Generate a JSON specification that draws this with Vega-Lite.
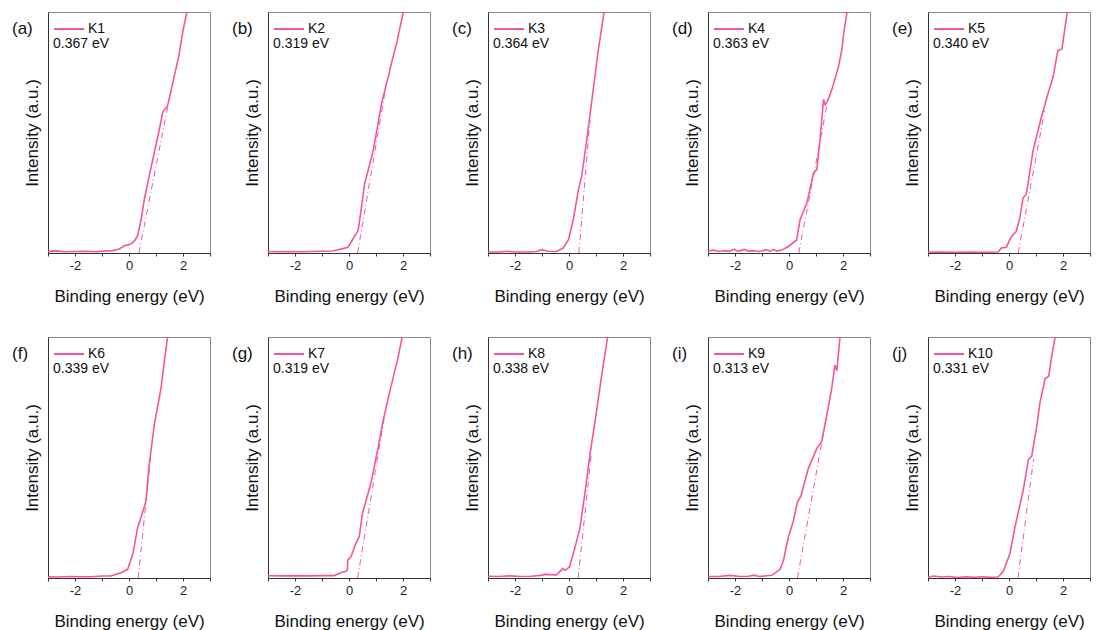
{
  "$schema": "https://vega.github.io/schema/vega-lite/v6.json",
  "padding": {"left": 11, "top": 11, "right": 5, "bottom": 2},
  "config": {
    "font": "Liberation Sans",
    "view": {"stroke": "#8a8a8a", "strokeWidth": 1},
    "axis": {"grid": false, "domainColor": "#333", "tickColor": "#333", "labelColor": "#222", "titleColor": "#111", "titleFontWeight": "normal", "titleFontSize": 17, "labelFontSize": 13},
    "axisX": {"tickSize": 3, "labelPadding": 3, "titlePadding": 16, "labelFlush": false},
    "axisY": {"titlePadding": 7},
    "title": {"anchor": "start", "frame": "group", "fontSize": 17, "fontWeight": "normal", "color": "#111", "dx": -36, "dy": 30, "offset": 0},
    "legend": {"padding": 0, "symbolType": "stroke", "symbolSize": 900, "symbolStrokeWidth": 2, "labelFontSize": 14, "labelColor": "#111", "titleFontSize": 14, "titleColor": "#111", "titleFontWeight": "normal", "titleOrient": "bottom", "titleAnchor": "start", "titlePadding": 1, "labelOffset": 3}
  },
  "datasets": {
    "spectra": [
      {"panel": "a", "series": "spectrum", "energy": -3, "intensity": 0.7},
      {"panel": "a", "series": "spectrum", "energy": -2.7, "intensity": 0.9},
      {"panel": "a", "series": "spectrum", "energy": -2.4, "intensity": 0.5},
      {"panel": "a", "series": "spectrum", "energy": -2.0, "intensity": 0.6},
      {"panel": "a", "series": "spectrum", "energy": -1.6, "intensity": 0.7},
      {"panel": "a", "series": "spectrum", "energy": -1.2, "intensity": 0.5},
      {"panel": "a", "series": "spectrum", "energy": -0.9, "intensity": 0.9},
      {"panel": "a", "series": "spectrum", "energy": -0.6, "intensity": 1.0},
      {"panel": "a", "series": "spectrum", "energy": -0.36, "intensity": 1.7},
      {"panel": "a", "series": "spectrum", "energy": -0.17, "intensity": 3.0},
      {"panel": "a", "series": "spectrum", "energy": 0.07, "intensity": 3.7},
      {"panel": "a", "series": "spectrum", "energy": 0.2, "intensity": 5.0},
      {"panel": "a", "series": "spectrum", "energy": 0.32, "intensity": 7.2},
      {"panel": "a", "series": "spectrum", "energy": 0.45, "intensity": 14},
      {"panel": "a", "series": "spectrum", "energy": 0.57, "intensity": 22.4},
      {"panel": "a", "series": "spectrum", "energy": 0.75, "intensity": 32},
      {"panel": "a", "series": "spectrum", "energy": 0.94, "intensity": 41.8},
      {"panel": "a", "series": "spectrum", "energy": 1.1, "intensity": 50},
      {"panel": "a", "series": "spectrum", "energy": 1.25, "intensity": 58.4},
      {"panel": "a", "series": "spectrum", "energy": 1.43, "intensity": 61.1},
      {"panel": "a", "series": "spectrum", "energy": 1.55, "intensity": 67},
      {"panel": "a", "series": "spectrum", "energy": 1.68, "intensity": 73.6},
      {"panel": "a", "series": "spectrum", "energy": 1.85, "intensity": 82},
      {"panel": "a", "series": "spectrum", "energy": 1.99, "intensity": 91.6},
      {"panel": "a", "series": "spectrum", "energy": 2.14, "intensity": 100},
      {"panel": "a", "series": "fit", "energy": 0.367, "intensity": 0},
      {"panel": "a", "series": "fit", "energy": 1.43, "intensity": 60.4},

      {"panel": "b", "series": "spectrum", "energy": -3, "intensity": 0.6},
      {"panel": "b", "series": "spectrum", "energy": -2.6, "intensity": 0.5},
      {"panel": "b", "series": "spectrum", "energy": -2.2, "intensity": 0.6},
      {"panel": "b", "series": "spectrum", "energy": -1.8, "intensity": 0.5},
      {"panel": "b", "series": "spectrum", "energy": -1.4, "intensity": 0.6},
      {"panel": "b", "series": "spectrum", "energy": -1.0, "intensity": 0.7},
      {"panel": "b", "series": "spectrum", "energy": -0.6, "intensity": 0.8},
      {"panel": "b", "series": "spectrum", "energy": -0.29, "intensity": 1.7},
      {"panel": "b", "series": "spectrum", "energy": -0.04, "intensity": 2.4},
      {"panel": "b", "series": "spectrum", "energy": 0.15, "intensity": 5.9},
      {"panel": "b", "series": "spectrum", "energy": 0.34, "intensity": 9.4},
      {"panel": "b", "series": "spectrum", "energy": 0.45, "intensity": 18},
      {"panel": "b", "series": "spectrum", "energy": 0.58, "intensity": 28.9},
      {"panel": "b", "series": "spectrum", "energy": 0.75, "intensity": 36},
      {"panel": "b", "series": "spectrum", "energy": 0.9, "intensity": 42.8},
      {"panel": "b", "series": "spectrum", "energy": 1.05, "intensity": 52},
      {"panel": "b", "series": "spectrum", "energy": 1.21, "intensity": 62.3},
      {"panel": "b", "series": "spectrum", "energy": 1.46, "intensity": 73.4},
      {"panel": "b", "series": "spectrum", "energy": 1.6, "intensity": 80},
      {"panel": "b", "series": "spectrum", "energy": 1.77, "intensity": 87.3},
      {"panel": "b", "series": "spectrum", "energy": 2.01, "intensity": 100},
      {"panel": "b", "series": "fit", "energy": 0.319, "intensity": 0},
      {"panel": "b", "series": "fit", "energy": 1.39, "intensity": 70.6},

      {"panel": "c", "series": "spectrum", "energy": -3, "intensity": 0.4},
      {"panel": "c", "series": "spectrum", "energy": -2.6, "intensity": 0.4},
      {"panel": "c", "series": "spectrum", "energy": -2.3, "intensity": 0.7},
      {"panel": "c", "series": "spectrum", "energy": -2.0, "intensity": 0.4},
      {"panel": "c", "series": "spectrum", "energy": -1.5, "intensity": 0.4},
      {"panel": "c", "series": "spectrum", "energy": -1.2, "intensity": 0.6},
      {"panel": "c", "series": "spectrum", "energy": -1.0, "intensity": 1.4},
      {"panel": "c", "series": "spectrum", "energy": -0.8, "intensity": 0.7},
      {"panel": "c", "series": "spectrum", "energy": -0.46, "intensity": 0.6},
      {"panel": "c", "series": "spectrum", "energy": -0.21, "intensity": 2.1},
      {"panel": "c", "series": "spectrum", "energy": -0.02, "intensity": 5.5},
      {"panel": "c", "series": "spectrum", "energy": 0.16, "intensity": 13.9},
      {"panel": "c", "series": "spectrum", "energy": 0.35, "intensity": 26.3},
      {"panel": "c", "series": "spectrum", "energy": 0.47, "intensity": 31.9},
      {"panel": "c", "series": "spectrum", "energy": 0.66, "intensity": 47.1},
      {"panel": "c", "series": "spectrum", "energy": 0.9, "intensity": 68},
      {"panel": "c", "series": "spectrum", "energy": 1.09, "intensity": 84.6},
      {"panel": "c", "series": "spectrum", "energy": 1.3, "intensity": 100},
      {"panel": "c", "series": "fit", "energy": 0.364, "intensity": 0},
      {"panel": "c", "series": "fit", "energy": 0.78, "intensity": 55.5},

      {"panel": "d", "series": "spectrum", "energy": -3, "intensity": 0.8},
      {"panel": "d", "series": "spectrum", "energy": -2.8, "intensity": 1.2},
      {"panel": "d", "series": "spectrum", "energy": -2.6, "intensity": 0.6},
      {"panel": "d", "series": "spectrum", "energy": -2.4, "intensity": 0.9},
      {"panel": "d", "series": "spectrum", "energy": -2.2, "intensity": 0.7},
      {"panel": "d", "series": "spectrum", "energy": -2.03, "intensity": 1.6},
      {"panel": "d", "series": "spectrum", "energy": -1.9, "intensity": 0.7},
      {"panel": "d", "series": "spectrum", "energy": -1.65, "intensity": 1.5},
      {"panel": "d", "series": "spectrum", "energy": -1.5, "intensity": 0.8},
      {"panel": "d", "series": "spectrum", "energy": -1.3, "intensity": 0.9},
      {"panel": "d", "series": "spectrum", "energy": -1.1, "intensity": 0.6},
      {"panel": "d", "series": "spectrum", "energy": -0.84, "intensity": 1.4},
      {"panel": "d", "series": "spectrum", "energy": -0.7, "intensity": 0.7},
      {"panel": "d", "series": "spectrum", "energy": -0.59, "intensity": 1.5},
      {"panel": "d", "series": "spectrum", "energy": -0.45, "intensity": 0.8},
      {"panel": "d", "series": "spectrum", "energy": -0.28, "intensity": 1.2},
      {"panel": "d", "series": "spectrum", "energy": -0.03, "intensity": 2.6},
      {"panel": "d", "series": "spectrum", "energy": 0.28, "intensity": 5.4},
      {"panel": "d", "series": "spectrum", "energy": 0.41, "intensity": 13.8},
      {"panel": "d", "series": "spectrum", "energy": 0.66, "intensity": 20.7},
      {"panel": "d", "series": "spectrum", "energy": 0.91, "intensity": 33.2},
      {"panel": "d", "series": "spectrum", "energy": 1.03, "intensity": 34.6},
      {"panel": "d", "series": "spectrum", "energy": 1.15, "intensity": 47.1},
      {"panel": "d", "series": "spectrum", "energy": 1.28, "intensity": 63.8},
      {"panel": "d", "series": "spectrum", "energy": 1.34, "intensity": 61.5},
      {"panel": "d", "series": "spectrum", "energy": 1.4, "intensity": 62.4},
      {"panel": "d", "series": "spectrum", "energy": 1.59, "intensity": 67.9},
      {"panel": "d", "series": "spectrum", "energy": 1.84, "intensity": 77.6},
      {"panel": "d", "series": "spectrum", "energy": 1.96, "intensity": 84.6},
      {"panel": "d", "series": "spectrum", "energy": 2.03, "intensity": 91.5},
      {"panel": "d", "series": "spectrum", "energy": 2.15, "intensity": 100},
      {"panel": "d", "series": "fit", "energy": 0.363, "intensity": 0},
      {"panel": "d", "series": "fit", "energy": 1.4, "intensity": 61},

      {"panel": "e", "series": "spectrum", "energy": -3, "intensity": 0.3},
      {"panel": "e", "series": "spectrum", "energy": -2.5, "intensity": 0.4},
      {"panel": "e", "series": "spectrum", "energy": -2.0, "intensity": 0.3},
      {"panel": "e", "series": "spectrum", "energy": -1.5, "intensity": 0.4},
      {"panel": "e", "series": "spectrum", "energy": -1.0, "intensity": 0.3},
      {"panel": "e", "series": "spectrum", "energy": -0.41, "intensity": 0.4},
      {"panel": "e", "series": "spectrum", "energy": -0.28, "intensity": 2.1},
      {"panel": "e", "series": "spectrum", "energy": -0.1, "intensity": 2.4},
      {"panel": "e", "series": "spectrum", "energy": 0.09, "intensity": 6.9},
      {"panel": "e", "series": "spectrum", "energy": 0.27, "intensity": 9.0},
      {"panel": "e", "series": "spectrum", "energy": 0.4, "intensity": 14.6},
      {"panel": "e", "series": "spectrum", "energy": 0.52, "intensity": 22.9},
      {"panel": "e", "series": "spectrum", "energy": 0.64, "intensity": 24.3},
      {"panel": "e", "series": "spectrum", "energy": 0.89, "intensity": 42.4},
      {"panel": "e", "series": "spectrum", "energy": 1.01, "intensity": 47.9},
      {"panel": "e", "series": "spectrum", "energy": 1.2, "intensity": 56.3},
      {"panel": "e", "series": "spectrum", "energy": 1.44, "intensity": 66.0},
      {"panel": "e", "series": "spectrum", "energy": 1.63, "intensity": 72.9},
      {"panel": "e", "series": "spectrum", "energy": 1.81, "intensity": 84.0},
      {"panel": "e", "series": "spectrum", "energy": 1.96, "intensity": 84.7},
      {"panel": "e", "series": "spectrum", "energy": 2.06, "intensity": 92.4},
      {"panel": "e", "series": "spectrum", "energy": 2.16, "intensity": 100},
      {"panel": "e", "series": "fit", "energy": 0.34, "intensity": 0},
      {"panel": "e", "series": "fit", "energy": 1.32, "intensity": 59},

      {"panel": "f", "series": "spectrum", "energy": -3, "intensity": 0.5},
      {"panel": "f", "series": "spectrum", "energy": -2.6, "intensity": 0.4},
      {"panel": "f", "series": "spectrum", "energy": -2.2, "intensity": 0.6},
      {"panel": "f", "series": "spectrum", "energy": -1.8, "intensity": 0.5},
      {"panel": "f", "series": "spectrum", "energy": -1.4, "intensity": 0.5},
      {"panel": "f", "series": "spectrum", "energy": -1.0, "intensity": 0.8},
      {"panel": "f", "series": "spectrum", "energy": -0.67, "intensity": 0.8},
      {"panel": "f", "series": "spectrum", "energy": -0.3, "intensity": 2.2},
      {"panel": "f", "series": "spectrum", "energy": -0.05, "intensity": 3.6},
      {"panel": "f", "series": "spectrum", "energy": 0.14, "intensity": 9.8},
      {"panel": "f", "series": "spectrum", "energy": 0.32, "intensity": 20.9},
      {"panel": "f", "series": "spectrum", "energy": 0.44, "intensity": 25},
      {"panel": "f", "series": "spectrum", "energy": 0.63, "intensity": 32},
      {"panel": "f", "series": "spectrum", "energy": 0.75, "intensity": 47.2},
      {"panel": "f", "series": "spectrum", "energy": 0.94, "intensity": 63.8},
      {"panel": "f", "series": "spectrum", "energy": 1.19, "intensity": 79},
      {"panel": "f", "series": "spectrum", "energy": 1.31, "intensity": 90},
      {"panel": "f", "series": "spectrum", "energy": 1.43, "intensity": 100},
      {"panel": "f", "series": "fit", "energy": 0.339, "intensity": 0},
      {"panel": "f", "series": "fit", "energy": 0.81, "intensity": 51.3},

      {"panel": "g", "series": "spectrum", "energy": -3, "intensity": 0.95},
      {"panel": "g", "series": "spectrum", "energy": -2.5, "intensity": 0.9},
      {"panel": "g", "series": "spectrum", "energy": -2.0, "intensity": 1.0},
      {"panel": "g", "series": "spectrum", "energy": -1.5, "intensity": 0.9},
      {"panel": "g", "series": "spectrum", "energy": -1.0, "intensity": 1.0},
      {"panel": "g", "series": "spectrum", "energy": -0.54, "intensity": 1.0},
      {"panel": "g", "series": "spectrum", "energy": -0.29, "intensity": 2.3},
      {"panel": "g", "series": "spectrum", "energy": -0.11, "intensity": 2.8},
      {"panel": "g", "series": "spectrum", "energy": -0.06, "intensity": 3.4},
      {"panel": "g", "series": "spectrum", "energy": -0.05, "intensity": 7.3},
      {"panel": "g", "series": "spectrum", "energy": 0.08, "intensity": 9.0},
      {"panel": "g", "series": "spectrum", "energy": 0.26, "intensity": 14.5},
      {"panel": "g", "series": "spectrum", "energy": 0.38, "intensity": 17.2},
      {"panel": "g", "series": "spectrum", "energy": 0.5, "intensity": 26.9},
      {"panel": "g", "series": "spectrum", "energy": 0.81, "intensity": 39.3},
      {"panel": "g", "series": "spectrum", "energy": 1.06, "intensity": 53.0},
      {"panel": "g", "series": "spectrum", "energy": 1.24, "intensity": 64.0},
      {"panel": "g", "series": "spectrum", "energy": 1.49, "intensity": 76.4},
      {"panel": "g", "series": "spectrum", "energy": 1.79, "intensity": 90.2},
      {"panel": "g", "series": "spectrum", "energy": 1.97, "intensity": 100},
      {"panel": "g", "series": "fit", "energy": 0.319, "intensity": 0},
      {"panel": "g", "series": "fit", "energy": 1.3, "intensity": 66.2},

      {"panel": "h", "series": "spectrum", "energy": -3, "intensity": 0.7},
      {"panel": "h", "series": "spectrum", "energy": -2.6, "intensity": 0.6},
      {"panel": "h", "series": "spectrum", "energy": -2.2, "intensity": 0.9},
      {"panel": "h", "series": "spectrum", "energy": -1.8, "intensity": 0.6},
      {"panel": "h", "series": "spectrum", "energy": -1.4, "intensity": 0.7},
      {"panel": "h", "series": "spectrum", "energy": -1.03, "intensity": 1.1},
      {"panel": "h", "series": "spectrum", "energy": -0.91, "intensity": 1.5},
      {"panel": "h", "series": "spectrum", "energy": -0.7, "intensity": 1.4},
      {"panel": "h", "series": "spectrum", "energy": -0.47, "intensity": 1.3},
      {"panel": "h", "series": "spectrum", "energy": -0.23, "intensity": 3.9},
      {"panel": "h", "series": "spectrum", "energy": -0.14, "intensity": 3.2},
      {"panel": "h", "series": "spectrum", "energy": 0.02, "intensity": 4.6},
      {"panel": "h", "series": "spectrum", "energy": 0.21, "intensity": 12.2},
      {"panel": "h", "series": "spectrum", "energy": 0.4, "intensity": 20.5},
      {"panel": "h", "series": "spectrum", "energy": 0.58, "intensity": 34.3},
      {"panel": "h", "series": "spectrum", "energy": 0.77, "intensity": 50.9},
      {"panel": "h", "series": "spectrum", "energy": 0.96, "intensity": 64.7},
      {"panel": "h", "series": "spectrum", "energy": 1.21, "intensity": 84.1},
      {"panel": "h", "series": "spectrum", "energy": 1.43, "intensity": 100},
      {"panel": "h", "series": "fit", "energy": 0.338, "intensity": 0},
      {"panel": "h", "series": "fit", "energy": 0.83, "intensity": 52},

      {"panel": "i", "series": "spectrum", "energy": -3, "intensity": 0.6},
      {"panel": "i", "series": "spectrum", "energy": -2.6, "intensity": 0.6},
      {"panel": "i", "series": "spectrum", "energy": -2.2, "intensity": 1.1},
      {"panel": "i", "series": "spectrum", "energy": -1.8, "intensity": 0.6},
      {"panel": "i", "series": "spectrum", "energy": -1.5, "intensity": 0.7},
      {"panel": "i", "series": "spectrum", "energy": -1.3, "intensity": 1.2},
      {"panel": "i", "series": "spectrum", "energy": -1.1, "intensity": 0.6},
      {"panel": "i", "series": "spectrum", "energy": -0.9, "intensity": 0.8},
      {"panel": "i", "series": "spectrum", "energy": -0.64, "intensity": 1.1},
      {"panel": "i", "series": "spectrum", "energy": -0.33, "intensity": 3.6},
      {"panel": "i", "series": "spectrum", "energy": -0.21, "intensity": 7.0},
      {"panel": "i", "series": "spectrum", "energy": -0.03, "intensity": 16.7},
      {"panel": "i", "series": "spectrum", "energy": 0.16, "intensity": 23.6},
      {"panel": "i", "series": "spectrum", "energy": 0.32, "intensity": 31.8},
      {"panel": "i", "series": "spectrum", "energy": 0.44, "intensity": 33.9},
      {"panel": "i", "series": "spectrum", "energy": 0.72, "intensity": 45.6},
      {"panel": "i", "series": "spectrum", "energy": 1.03, "intensity": 53.8},
      {"panel": "i", "series": "spectrum", "energy": 1.21, "intensity": 56.6},
      {"panel": "i", "series": "spectrum", "energy": 1.4, "intensity": 67.6},
      {"panel": "i", "series": "spectrum", "energy": 1.58, "intensity": 78.6},
      {"panel": "i", "series": "spectrum", "energy": 1.7, "intensity": 88.3},
      {"panel": "i", "series": "spectrum", "energy": 1.77, "intensity": 86},
      {"panel": "i", "series": "spectrum", "energy": 1.89, "intensity": 100},
      {"panel": "i", "series": "fit", "energy": 0.313, "intensity": 0},
      {"panel": "i", "series": "fit", "energy": 1.4, "intensity": 68},

      {"panel": "j", "series": "spectrum", "energy": -3, "intensity": 0.3},
      {"panel": "j", "series": "spectrum", "energy": -2.8, "intensity": 0.8},
      {"panel": "j", "series": "spectrum", "energy": -2.5, "intensity": 0.4},
      {"panel": "j", "series": "spectrum", "energy": -2.2, "intensity": 0.6},
      {"panel": "j", "series": "spectrum", "energy": -1.9, "intensity": 0.2},
      {"panel": "j", "series": "spectrum", "energy": -1.6, "intensity": 0.5},
      {"panel": "j", "series": "spectrum", "energy": -1.3, "intensity": 0.3},
      {"panel": "j", "series": "spectrum", "energy": -1.0, "intensity": 0.5},
      {"panel": "j", "series": "spectrum", "energy": -0.7, "intensity": 0.3},
      {"panel": "j", "series": "spectrum", "energy": -0.4, "intensity": 0.4},
      {"panel": "j", "series": "spectrum", "energy": -0.21, "intensity": 2.9},
      {"panel": "j", "series": "spectrum", "energy": 0.03, "intensity": 9.9},
      {"panel": "j", "series": "spectrum", "energy": 0.22, "intensity": 21.1},
      {"panel": "j", "series": "spectrum", "energy": 0.53, "intensity": 36.6},
      {"panel": "j", "series": "spectrum", "energy": 0.72, "intensity": 49.2},
      {"panel": "j", "series": "spectrum", "energy": 0.84, "intensity": 50.5},
      {"panel": "j", "series": "spectrum", "energy": 1.03, "intensity": 63.2},
      {"panel": "j", "series": "spectrum", "energy": 1.15, "intensity": 73.0},
      {"panel": "j", "series": "spectrum", "energy": 1.34, "intensity": 82.8},
      {"panel": "j", "series": "spectrum", "energy": 1.47, "intensity": 83.7},
      {"panel": "j", "series": "spectrum", "energy": 1.59, "intensity": 92.6},
      {"panel": "j", "series": "spectrum", "energy": 1.71, "intensity": 100},
      {"panel": "j", "series": "fit", "energy": 0.331, "intensity": 0},
      {"panel": "j", "series": "fit", "energy": 0.91, "intensity": 49.2}
    ]
  },
  "spacing": 31,
  "resolve": {"scale": {"color": "independent"}, "legend": {"color": "independent"}},
  "vconcat": [
    {
      "spacing": 58,
      "bounds": "flush",
      "resolve": {"scale": {"color": "independent"}, "legend": {"color": "independent"}},
      "hconcat": [
        {
          "title": "(a)", "width": 162, "height": 241,
          "data": {"name": "spectra"},
          "transform": [{"filter": "datum.panel == 'a'"}],
          "encoding": {
            "x": {"field": "energy", "type": "quantitative", "title": "Binding energy (eV)", "scale": {"domain": [-3, 3]}, "axis": {"values": [-3, -2, -1, 0, 1, 2, 3], "labelExpr": "datum.value % 2 == 0 ? '' + datum.value : ''"}},
            "y": {"field": "intensity", "type": "quantitative", "title": "Intensity (a.u.)", "scale": {"domain": [0, 100]}, "axis": {"labels": false, "ticks": false}}
          },
          "layer": [
            {"transform": [{"filter": "datum.series == 'spectrum'"}], "mark": {"type": "line", "clip": true, "strokeWidth": 1.6}, "encoding": {"color": {"datum": "K1", "scale": {"range": ["#F5559F"]}, "legend": {"title": "0.367 eV", "orient": "none", "legendX": 5, "legendY": 1}}}},
            {"transform": [{"filter": "datum.series == 'fit'"}], "mark": {"type": "line", "color": "#F5559F", "strokeWidth": 1, "strokeDash": [6, 3, 1, 3]}}
          ]
        },
        {
          "title": "(b)", "width": 162, "height": 241,
          "data": {"name": "spectra"},
          "transform": [{"filter": "datum.panel == 'b'"}],
          "encoding": {
            "x": {"field": "energy", "type": "quantitative", "title": "Binding energy (eV)", "scale": {"domain": [-3, 3]}, "axis": {"values": [-3, -2, -1, 0, 1, 2, 3], "labelExpr": "datum.value % 2 == 0 ? '' + datum.value : ''"}},
            "y": {"field": "intensity", "type": "quantitative", "title": "Intensity (a.u.)", "scale": {"domain": [0, 100]}, "axis": {"labels": false, "ticks": false}}
          },
          "layer": [
            {"transform": [{"filter": "datum.series == 'spectrum'"}], "mark": {"type": "line", "clip": true, "strokeWidth": 1.6}, "encoding": {"color": {"datum": "K2", "scale": {"range": ["#F5559F"]}, "legend": {"title": "0.319 eV", "orient": "none", "legendX": 5, "legendY": 1}}}},
            {"transform": [{"filter": "datum.series == 'fit'"}], "mark": {"type": "line", "color": "#F5559F", "strokeWidth": 1, "strokeDash": [6, 3, 1, 3]}}
          ]
        },
        {
          "title": "(c)", "width": 162, "height": 241,
          "data": {"name": "spectra"},
          "transform": [{"filter": "datum.panel == 'c'"}],
          "encoding": {
            "x": {"field": "energy", "type": "quantitative", "title": "Binding energy (eV)", "scale": {"domain": [-3, 3]}, "axis": {"values": [-3, -2, -1, 0, 1, 2, 3], "labelExpr": "datum.value % 2 == 0 ? '' + datum.value : ''"}},
            "y": {"field": "intensity", "type": "quantitative", "title": "Intensity (a.u.)", "scale": {"domain": [0, 100]}, "axis": {"labels": false, "ticks": false}}
          },
          "layer": [
            {"transform": [{"filter": "datum.series == 'spectrum'"}], "mark": {"type": "line", "clip": true, "strokeWidth": 1.6}, "encoding": {"color": {"datum": "K3", "scale": {"range": ["#F5559F"]}, "legend": {"title": "0.364 eV", "orient": "none", "legendX": 5, "legendY": 1}}}},
            {"transform": [{"filter": "datum.series == 'fit'"}], "mark": {"type": "line", "color": "#F5559F", "strokeWidth": 1, "strokeDash": [6, 3, 1, 3]}}
          ]
        },
        {
          "title": "(d)", "width": 162, "height": 241,
          "data": {"name": "spectra"},
          "transform": [{"filter": "datum.panel == 'd'"}],
          "encoding": {
            "x": {"field": "energy", "type": "quantitative", "title": "Binding energy (eV)", "scale": {"domain": [-3, 3]}, "axis": {"values": [-3, -2, -1, 0, 1, 2, 3], "labelExpr": "datum.value % 2 == 0 ? '' + datum.value : ''"}},
            "y": {"field": "intensity", "type": "quantitative", "title": "Intensity (a.u.)", "scale": {"domain": [0, 100]}, "axis": {"labels": false, "ticks": false}}
          },
          "layer": [
            {"transform": [{"filter": "datum.series == 'spectrum'"}], "mark": {"type": "line", "clip": true, "strokeWidth": 1.6}, "encoding": {"color": {"datum": "K4", "scale": {"range": ["#F5559F"]}, "legend": {"title": "0.363 eV", "orient": "none", "legendX": 5, "legendY": 1}}}},
            {"transform": [{"filter": "datum.series == 'fit'"}], "mark": {"type": "line", "color": "#F5559F", "strokeWidth": 1, "strokeDash": [6, 3, 1, 3]}}
          ]
        },
        {
          "title": "(e)", "width": 162, "height": 241,
          "data": {"name": "spectra"},
          "transform": [{"filter": "datum.panel == 'e'"}],
          "encoding": {
            "x": {"field": "energy", "type": "quantitative", "title": "Binding energy (eV)", "scale": {"domain": [-3, 3]}, "axis": {"values": [-3, -2, -1, 0, 1, 2, 3], "labelExpr": "datum.value % 2 == 0 ? '' + datum.value : ''"}},
            "y": {"field": "intensity", "type": "quantitative", "title": "Intensity (a.u.)", "scale": {"domain": [0, 100]}, "axis": {"labels": false, "ticks": false}}
          },
          "layer": [
            {"transform": [{"filter": "datum.series == 'spectrum'"}], "mark": {"type": "line", "clip": true, "strokeWidth": 1.6}, "encoding": {"color": {"datum": "K5", "scale": {"range": ["#F5559F"]}, "legend": {"title": "0.340 eV", "orient": "none", "legendX": 5, "legendY": 1}}}},
            {"transform": [{"filter": "datum.series == 'fit'"}], "mark": {"type": "line", "color": "#F5559F", "strokeWidth": 1, "strokeDash": [6, 3, 1, 3]}}
          ]
        }
      ]
    },
    {
      "spacing": 58,
      "bounds": "flush",
      "resolve": {"scale": {"color": "independent"}, "legend": {"color": "independent"}},
      "hconcat": [
        {
          "title": "(f)", "width": 162, "height": 241,
          "data": {"name": "spectra"},
          "transform": [{"filter": "datum.panel == 'f'"}],
          "encoding": {
            "x": {"field": "energy", "type": "quantitative", "title": "Binding energy (eV)", "scale": {"domain": [-3, 3]}, "axis": {"values": [-3, -2, -1, 0, 1, 2, 3], "labelExpr": "datum.value % 2 == 0 ? '' + datum.value : ''"}},
            "y": {"field": "intensity", "type": "quantitative", "title": "Intensity (a.u.)", "scale": {"domain": [0, 100]}, "axis": {"labels": false, "ticks": false}}
          },
          "layer": [
            {"transform": [{"filter": "datum.series == 'spectrum'"}], "mark": {"type": "line", "clip": true, "strokeWidth": 1.6}, "encoding": {"color": {"datum": "K6", "scale": {"range": ["#F5559F"]}, "legend": {"title": "0.339 eV", "orient": "none", "legendX": 5, "legendY": 1}}}},
            {"transform": [{"filter": "datum.series == 'fit'"}], "mark": {"type": "line", "color": "#F5559F", "strokeWidth": 1, "strokeDash": [6, 3, 1, 3]}}
          ]
        },
        {
          "title": "(g)", "width": 162, "height": 241,
          "data": {"name": "spectra"},
          "transform": [{"filter": "datum.panel == 'g'"}],
          "encoding": {
            "x": {"field": "energy", "type": "quantitative", "title": "Binding energy (eV)", "scale": {"domain": [-3, 3]}, "axis": {"values": [-3, -2, -1, 0, 1, 2, 3], "labelExpr": "datum.value % 2 == 0 ? '' + datum.value : ''"}},
            "y": {"field": "intensity", "type": "quantitative", "title": "Intensity (a.u.)", "scale": {"domain": [0, 100]}, "axis": {"labels": false, "ticks": false}}
          },
          "layer": [
            {"transform": [{"filter": "datum.series == 'spectrum'"}], "mark": {"type": "line", "clip": true, "strokeWidth": 1.6}, "encoding": {"color": {"datum": "K7", "scale": {"range": ["#F5559F"]}, "legend": {"title": "0.319 eV", "orient": "none", "legendX": 5, "legendY": 1}}}},
            {"transform": [{"filter": "datum.series == 'fit'"}], "mark": {"type": "line", "color": "#F5559F", "strokeWidth": 1, "strokeDash": [6, 3, 1, 3]}}
          ]
        },
        {
          "title": "(h)", "width": 162, "height": 241,
          "data": {"name": "spectra"},
          "transform": [{"filter": "datum.panel == 'h'"}],
          "encoding": {
            "x": {"field": "energy", "type": "quantitative", "title": "Binding energy (eV)", "scale": {"domain": [-3, 3]}, "axis": {"values": [-3, -2, -1, 0, 1, 2, 3], "labelExpr": "datum.value % 2 == 0 ? '' + datum.value : ''"}},
            "y": {"field": "intensity", "type": "quantitative", "title": "Intensity (a.u.)", "scale": {"domain": [0, 100]}, "axis": {"labels": false, "ticks": false}}
          },
          "layer": [
            {"transform": [{"filter": "datum.series == 'spectrum'"}], "mark": {"type": "line", "clip": true, "strokeWidth": 1.6}, "encoding": {"color": {"datum": "K8", "scale": {"range": ["#F5559F"]}, "legend": {"title": "0.338 eV", "orient": "none", "legendX": 5, "legendY": 1}}}},
            {"transform": [{"filter": "datum.series == 'fit'"}], "mark": {"type": "line", "color": "#F5559F", "strokeWidth": 1, "strokeDash": [6, 3, 1, 3]}}
          ]
        },
        {
          "title": "(i)", "width": 162, "height": 241,
          "data": {"name": "spectra"},
          "transform": [{"filter": "datum.panel == 'i'"}],
          "encoding": {
            "x": {"field": "energy", "type": "quantitative", "title": "Binding energy (eV)", "scale": {"domain": [-3, 3]}, "axis": {"values": [-3, -2, -1, 0, 1, 2, 3], "labelExpr": "datum.value % 2 == 0 ? '' + datum.value : ''"}},
            "y": {"field": "intensity", "type": "quantitative", "title": "Intensity (a.u.)", "scale": {"domain": [0, 100]}, "axis": {"labels": false, "ticks": false}}
          },
          "layer": [
            {"transform": [{"filter": "datum.series == 'spectrum'"}], "mark": {"type": "line", "clip": true, "strokeWidth": 1.6}, "encoding": {"color": {"datum": "K9", "scale": {"range": ["#F5559F"]}, "legend": {"title": "0.313 eV", "orient": "none", "legendX": 5, "legendY": 1}}}},
            {"transform": [{"filter": "datum.series == 'fit'"}], "mark": {"type": "line", "color": "#F5559F", "strokeWidth": 1, "strokeDash": [6, 3, 1, 3]}}
          ]
        },
        {
          "title": "(j)", "width": 162, "height": 241,
          "data": {"name": "spectra"},
          "transform": [{"filter": "datum.panel == 'j'"}],
          "encoding": {
            "x": {"field": "energy", "type": "quantitative", "title": "Binding energy (eV)", "scale": {"domain": [-3, 3]}, "axis": {"values": [-3, -2, -1, 0, 1, 2, 3], "labelExpr": "datum.value % 2 == 0 ? '' + datum.value : ''"}},
            "y": {"field": "intensity", "type": "quantitative", "title": "Intensity (a.u.)", "scale": {"domain": [0, 100]}, "axis": {"labels": false, "ticks": false}}
          },
          "layer": [
            {"transform": [{"filter": "datum.series == 'spectrum'"}], "mark": {"type": "line", "clip": true, "strokeWidth": 1.6}, "encoding": {"color": {"datum": "K10", "scale": {"range": ["#F5559F"]}, "legend": {"title": "0.331 eV", "orient": "none", "legendX": 5, "legendY": 1}}}},
            {"transform": [{"filter": "datum.series == 'fit'"}], "mark": {"type": "line", "color": "#F5559F", "strokeWidth": 1, "strokeDash": [6, 3, 1, 3]}}
          ]
        }
      ]
    }
  ]
}
